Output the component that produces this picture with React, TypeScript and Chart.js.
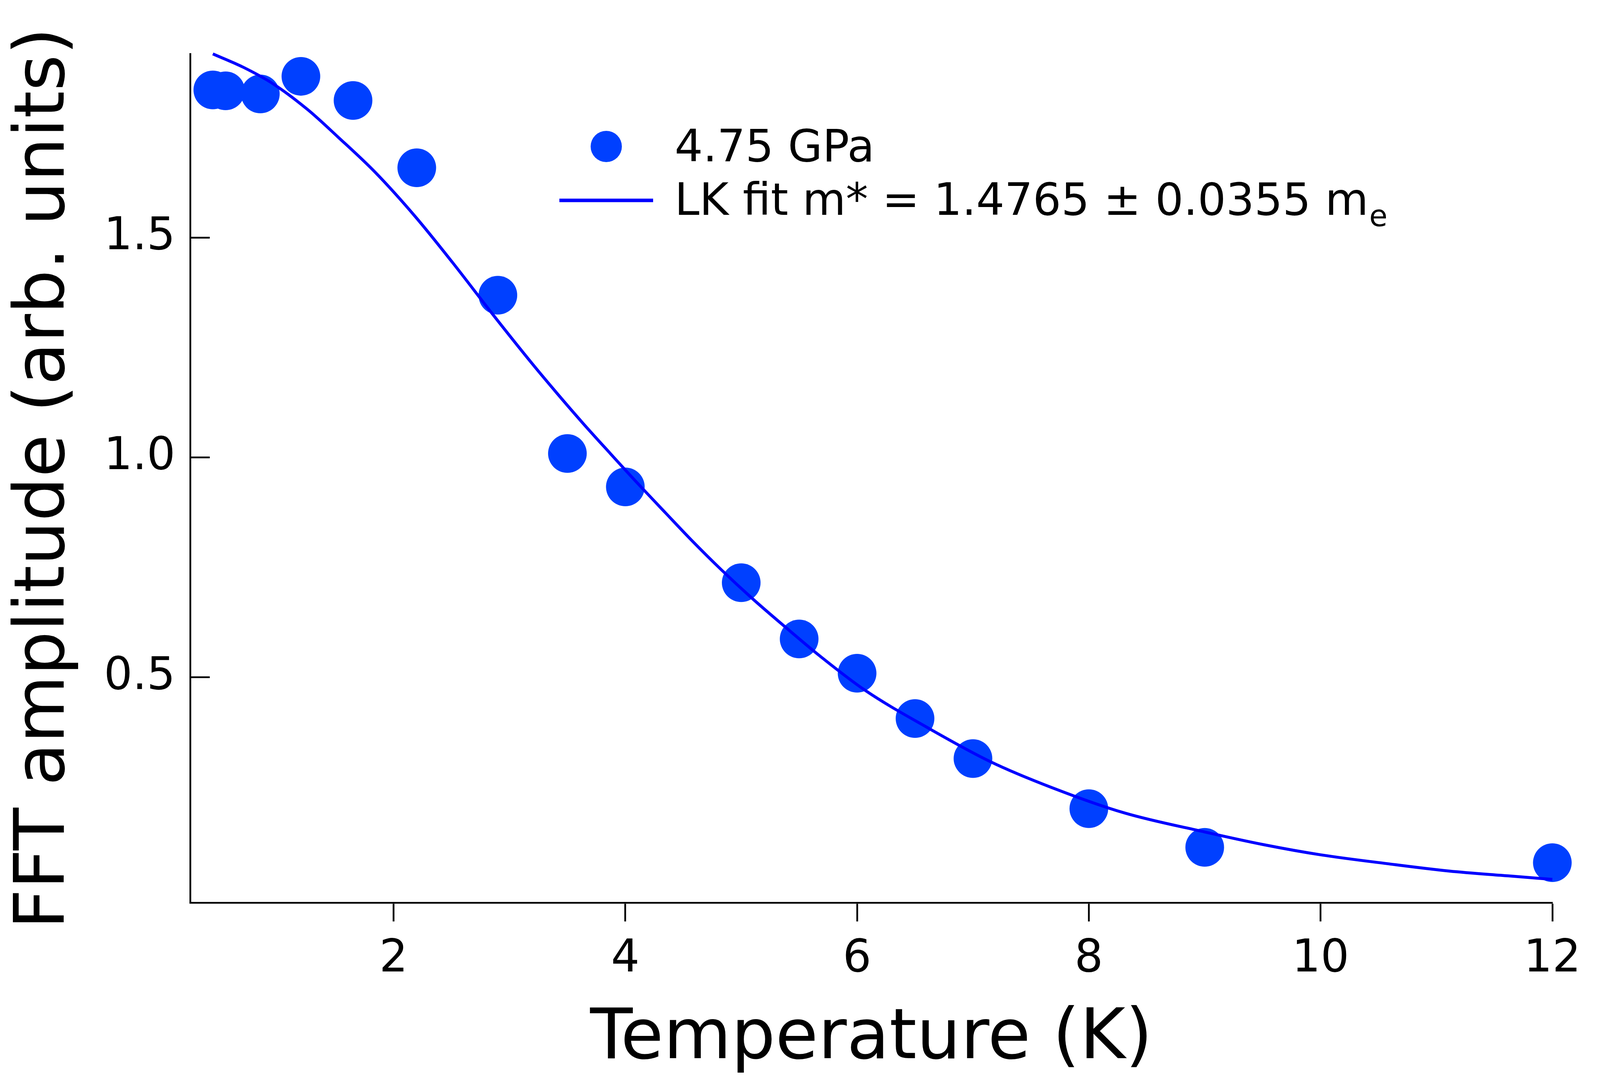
import React, { useEffect, useRef } from 'react';
import { Chart, registerables } from 'chart.js';

Chart.register(...registerables);

// measured amplitudes, 4.75 GPa
const tempK = [0.44, 0.55, 0.85, 1.2, 1.65, 2.2, 2.9, 3.5, 4.0, 5.0, 5.5, 6.0, 6.5, 7.0, 8.0, 9.0, 12.0];
const amplitude = [1.836, 1.834, 1.827, 1.867, 1.812, 1.659, 1.369, 1.009, 0.933, 0.715, 0.587, 0.509, 0.406, 0.315, 0.201, 0.113, 0.078];

// Lifshitz-Kosevich fit curve
const fitTempK = [0.44, 0.7, 0.96, 1.26, 1.52, 1.84, 2.19, 2.51, 2.86, 3.2, 3.41, 3.63, 3.87, 4.11, 4.35, 4.57, 4.83, 5.1, 5.39, 5.68, 6.07, 6.61, 7.15, 7.68, 8.31, 9.0, 9.51, 10.0, 10.57, 11.11, 11.62, 12.0];
const fitAmplitude = [1.918, 1.888, 1.85, 1.791, 1.729, 1.649, 1.547, 1.443, 1.324, 1.212, 1.146, 1.079, 1.009, 0.94, 0.873, 0.812, 0.744, 0.678, 0.612, 0.548, 0.47, 0.385, 0.308, 0.249, 0.191, 0.148, 0.119, 0.096, 0.076, 0.059, 0.048, 0.04];

const xTicks = [2, 4, 6, 8, 10, 12];
const yTicks = [0.5, 1.0, 1.5];

const dataLabel = '4.75 GPa';
const fitLabel = 'LK fit m* = 1.4765 \u00B1 0.0355 m';
const fitLabelSub = 'e';

const POINT_COLOR = '#0040ff';
const LINE_COLOR = '#0000ff';
const FONT = '"DejaVu Sans", sans-serif';

const insideYTicks = {
  id: 'insideYTicks',
  afterDraw(chart: any) {
    const { ctx, chartArea, scales } = chart;
    ctx.save();
    ctx.strokeStyle = '#000';
    ctx.lineWidth = 4.5;
    yTicks.forEach((v) => {
      const y = scales.y.getPixelForValue(v);
      ctx.beginPath();
      ctx.moveTo(chartArea.left, y);
      ctx.lineTo(chartArea.left + 50, y);
      ctx.stroke();
    });
    ctx.restore();
  },
};

const boxLegend = {
  id: 'boxLegend',
  afterDraw(chart: any) {
    const { ctx } = chart;
    ctx.save();
    // scatter marker
    ctx.fillStyle = POINT_COLOR;
    ctx.beginPath();
    ctx.arc(1552, 375, 40, 0, Math.PI * 2);
    ctx.fill();
    // fit line sample
    ctx.strokeStyle = LINE_COLOR;
    ctx.lineWidth = 9;
    ctx.beginPath();
    ctx.moveTo(1432, 513);
    ctx.lineTo(1672, 513);
    ctx.stroke();

    ctx.fillStyle = '#000';
    ctx.textAlign = 'left';
    ctx.textBaseline = 'alphabetic';
    ctx.font = `114px ${FONT}`;
    ctx.fillText(dataLabel, 1727, 413);
    ctx.fillText(fitLabel, 1727, 550);
    const w = ctx.measureText(fitLabel).width;
    ctx.font = `76px ${FONT}`;
    ctx.fillText(fitLabelSub, 1727 + w + 2, 579);
    ctx.restore();
  },
};

const App: React.FC = () => {
  const canvasRef = useRef<HTMLCanvasElement>(null);

  useEffect(() => {
    if (!canvasRef.current) return;
    Chart.defaults.font.family = FONT;
    Chart.defaults.color = '#000';

    const chart = new Chart(canvasRef.current, {
      type: 'scatter',
      data: {
        datasets: [
          {
            label: dataLabel,
            data: tempK.map((t, i) => ({ x: t, y: amplitude[i] })),
            pointRadius: 49.5,
            pointBorderWidth: 0,
            pointBackgroundColor: POINT_COLOR,
            showLine: false,
            clip: false,
            order: 1,
          },
          {
            label: fitLabel,
            type: 'line',
            data: fitTempK.map((t, i) => ({ x: t, y: fitAmplitude[i] })),
            borderColor: LINE_COLOR,
            borderWidth: 7.5,
            pointRadius: 0,
            cubicInterpolationMode: 'monotone',
            fill: false,
            clip: false,
            order: 0,
          } as any,
        ],
      },
      options: {
        animation: false,
        responsive: true,
        maintainAspectRatio: false,
        layout: { padding: { top: 138, right: 346, left: 0, bottom: 0 } },
        plugins: {
          legend: { display: false },
          tooltip: { enabled: false },
        },
        scales: {
          x: {
            type: 'linear',
            min: 0.245,
            max: 12,
            afterBuildTicks: (s: any) => {
              s.ticks = xTicks.map((v) => ({ value: v }));
            },
            afterFit: (s: any) => {
              s.height = 459;
            },
            grid: {
              drawOnChartArea: false,
              drawTicks: true,
              tickLength: 48,
              tickWidth: 4.5,
              tickColor: '#000',
            },
            border: { display: true, width: 4.5, color: '#000' },
            ticks: {
              color: '#000',
              font: { size: 115 },
              padding: 29,
              maxRotation: 0,
              autoSkip: false,
              callback: (v: any) => String(v),
            },
            title: {
              display: true,
              text: 'Temperature (K)',
              color: '#000',
              font: { size: 178 },
              padding: { top: 0, bottom: 0 },
            },
          },
          y: {
            type: 'linear',
            min: -0.013,
            max: 1.918,
            afterBuildTicks: (s: any) => {
              s.ticks = yTicks.map((v) => ({ value: v }));
            },
            afterFit: (s: any) => {
              s.width = 487;
            },
            grid: { drawOnChartArea: false, drawTicks: false },
            border: { display: true, width: 4.5, color: '#000' },
            ticks: {
              color: '#000',
              font: { size: 115 },
              padding: 38,
              autoSkip: false,
              callback: (v: any) => Number(v).toFixed(1),
            },
            title: {
              display: true,
              text: 'FFT amplitude (arb. units)',
              color: '#000',
              font: { size: 178 },
              padding: { top: 10, bottom: 0 },
            },
          },
        },
      },
      plugins: [insideYTicks, boxLegend],
    });

    return () => {
      chart.destroy();
    };
  }, []);

  return (
    <div style={{ position: 'absolute', left: 0, top: 0, width: 4320, height: 2770, background: '#fff' }}>
      <canvas ref={canvasRef}></canvas>
    </div>
  );
};

export default App;
